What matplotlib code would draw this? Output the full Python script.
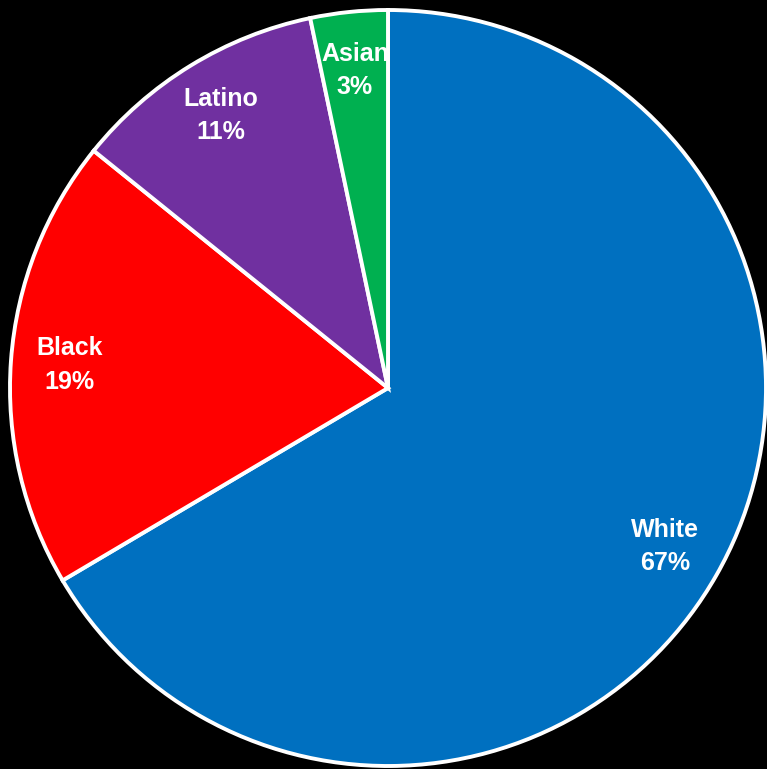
import matplotlib.pyplot as plt

# race shares, clockwise from 12 o'clock (wedge sizes)
groups = ["White", "Black", "Latino", "Asian"]
shares = [66.5, 19.3, 10.9, 3.3]
pct_labels = ["67%", "19%", "11%", "3%"]
colors = ["#0070C0", "#FF0000", "#7030A0", "#00B050"]

W, H = 767, 769
R = 378.0      # pie radius in pixels
cx, cy = 388.0, 388.0  # centre in pixels (from top-left)

fig = plt.figure(figsize=(W / 100, H / 100), dpi=100, facecolor="black")
ax = fig.add_axes([0, 0, 1, 1])
ax.set_facecolor("black")

labels = [f"{g}\n{p}" for g, p in zip(groups, pct_labels)]
wedges, texts = ax.pie(shares, labels=labels, colors=colors, startangle=90,
                       counterclock=False, labeldistance=0.845,
                       wedgeprops=dict(edgecolor="white", linewidth=2.8),
                       textprops=dict(color="white", fontweight="bold",
                                      fontsize=18, family="Liberation Sans",
                                      linespacing=1.5))
for w, t in zip(wedges, texts):
    t.set_horizontalalignment("center")
    t.set_verticalalignment("center")
    t.set_clip_path(w)  # labels are cut off at their own slice

ax.set_xlim(-cx / R, (W - cx) / R)
ax.set_ylim(-(H - cy) / R, cy / R)
ax.set_aspect("auto")
ax.axis("off")

fig.savefig("out.png", dpi=100, facecolor="black")
